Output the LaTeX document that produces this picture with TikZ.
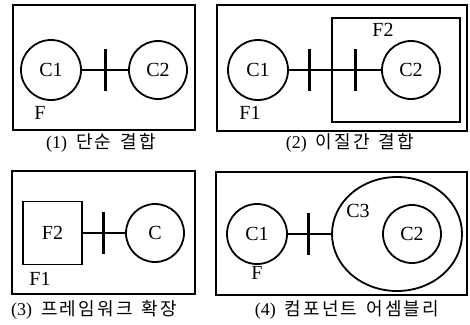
\documentclass[tikz,border=0pt]{standalone}
\usepackage{fontspec}
\setmainfont{Liberation Serif}
\newfontfamily\kr[LetterSpace=12]{Noto Sans CJK KR}
\usetikzlibrary{shapes.geometric}
\newcommand{\gapw}{\hspace{9pt}}
\begin{document}
\begin{tikzpicture}[x=1pt,y=-1pt,
  frame/.style={draw,line width=2pt},
  comp/.style={draw,circle,line width=1.8pt,minimum size=60pt,inner sep=0pt,font=\fontsize{20}{20}\selectfont},
  lbl/.style={font=\fontsize{20}{20}\selectfont,inner sep=0pt},
  captext/.style={font=\fontsize{18}{18}\selectfont,inner sep=0pt},
  link/.style={line width=1.8pt},
  tickmark/.style={line width=3pt}]
\useasboundingbox (0,0) rectangle (470,324);
% panel 1
\draw[frame] (13,5) rectangle (195,130);
\node[comp] (a1) at (51,70) {C1};
\node[comp,minimum size=58pt] (a2) at (158,70) {C2};
\draw[link] (a1) -- (a2);
\coordinate (t1) at (105,70);
\draw[tickmark] ([yshift=-21pt]t1) -- ([yshift=21pt]t1);
\node[lbl] (fa) at (40,113) {F};
\node[captext] (cap1) at (101,143) {(1)\gapw{\kr 단순\gapw 결합}};
% panel 2
\draw[frame] (217,5) rectangle (467,131);
\draw[frame,line width=1.8pt] (332,18) rectangle (460,122);
\node[comp] (b1) at (258,70) {C1};
\node[comp,minimum size=58pt] (b2) at (411,70) {C2};
\draw[link] (b1) -- (b2);
\coordinate (t2) at (309,70);
\coordinate (t3) at (355,70);
\draw[tickmark] ([yshift=-21pt]t2) -- ([yshift=21pt]t2);
\draw[tickmark] ([yshift=-21pt]t3) -- ([yshift=21pt]t3);
\node[lbl] (fb2) at (383,30) {F2};
\node[lbl] (fb1) at (250,113) {F1};
\node[captext] (cap2) at (350,143) {(2)\gapw{\kr 이질간\gapw 결합}};
% panel 3
\draw[frame] (12,171) rectangle (195,294);
\node[draw,rectangle,line width=1.8pt,minimum width=59pt,minimum height=63pt,inner sep=0pt,font=\fontsize{20}{20}\selectfont] (c1) at (52.5,233) {F2};
\node[comp,minimum size=58pt] (c2) at (155,233) {C};
\draw[link] (c1) -- (c2);
\coordinate (t4) at (103,233);
\draw[tickmark] ([yshift=-21pt]t4) -- ([yshift=21pt]t4);
\node[lbl] (fc1) at (40,279) {F1};
\node[captext] (cap3) at (94,310) {(3)\gapw{\kr 프레임워크\gapw 확장}};
% panel 4
\draw[frame] (216,172) rectangle (467,295);
\node[comp] (d1) at (257,234) {C1};
\node[draw,ellipse,line width=1.8pt,minimum width=130pt,minimum height=114pt,inner sep=0pt] (d3) at (397,234) {};
\node[comp,minimum size=58pt] (d2) at (412,234) {C2};
\draw[link] (d1) -- (d3);
\coordinate (t5) at (308,234);
\draw[tickmark] ([yshift=-21pt]t5) -- ([yshift=21pt]t5);
\node[lbl] (fd3) at (358,211) {C3};
\node[lbl] (fd) at (257,273) {F};
\node[captext] (cap4) at (347,310) {(4)\gapw{\kr 컴포넌트\gapw 어셈블리}};
\end{tikzpicture}
\end{document}
